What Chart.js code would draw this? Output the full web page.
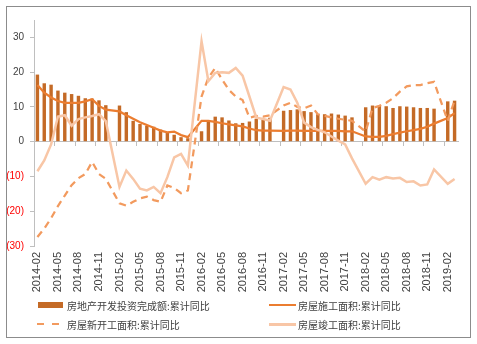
<!DOCTYPE html>
<html lang="zh-CN">
<head>
<meta charset="UTF-8">
<title>房地产开发投资与房屋面积累计同比</title>
<script src="https://cdn.jsdelivr.net/npm/chart.js"></script>
<style>
  body { margin: 0; background: #fff; }
  .frame { position: absolute; left: 6px; top: 6px; width: 463px; height: 330px; border: 1px solid #8c8c8c; }
  .frame canvas { display: block; }
  .leg { position: absolute; height: 12px; display: flex; align-items: center; white-space: nowrap;
         font: 10px "Noto Sans CJK SC", sans-serif; color: #404040; }
  .leg i { display: block; flex: none; }
</style>
</head>
<body>
<div class="frame"><canvas id="chart" width="463" height="330"></canvas></div>

<script>
// monthly categories, January has no separate release (null in every series)
const months = [
  '2014-02','2014-03','2014-04','2014-05','2014-06','2014-07','2014-08','2014-09','2014-10','2014-11','2014-12',
  '2015-01','2015-02','2015-03','2015-04','2015-05','2015-06','2015-07','2015-08','2015-09','2015-10','2015-11','2015-12',
  '2016-01','2016-02','2016-03','2016-04','2016-05','2016-06','2016-07','2016-08','2016-09','2016-10','2016-11','2016-12',
  '2017-01','2017-02','2017-03','2017-04','2017-05','2017-06','2017-07','2017-08','2017-09','2017-10','2017-11','2017-12',
  '2018-01','2018-02','2018-03','2018-04','2018-05','2018-06','2018-07','2018-08','2018-09','2018-10','2018-11','2018-12',
  '2019-01','2019-02','2019-03'
];

// 房地产开发投资完成额:累计同比 (%)
const investYoY = [
  19.3, 16.8, 16.4, 14.7, 14.1, 13.7, 13.2, 12.5, 12.4, 11.9, 10.5,
  null, 10.4, 8.5, 6.0, 5.1, 4.6, 4.3, 3.5, 2.6, 2.0, 1.3, 1.0,
  null, 3.0, 6.2, 7.2, 7.0, 6.1, 5.3, 5.4, 5.8, 6.6, 6.5, 6.9,
  null, 8.9, 9.1, 9.3, 8.8, 8.5, 7.9, 7.9, 8.1, 7.8, 7.5, 7.0,
  null, 9.9, 10.4, 10.3, 10.2, 9.7, 10.2, 10.1, 9.9, 9.7, 9.7, 9.5,
  null, 11.6, 11.8
];

// 房屋施工面积:累计同比 (%)
const underConstructionYoY = [
  16.3, 14.1, 12.7, 11.7, 11.2, 11.2, 11.2, 11.6, 12.2, 10.3, 9.2,
  null, 8.7, 7.6, 6.6, 5.6, 4.8, 4.0, 3.2, 2.7, 2.9, 1.9, 1.3,
  null, 6.0, 6.0, 5.7, 5.3, 5.0, 4.7, 4.4, 3.8, 3.3, 3.2, 3.2,
  null, 3.1, 3.2, 3.2, 3.1, 3.1, 3.1, 3.1, 3.1, 3.1, 3.0, 3.0,
  null, 1.5, 1.4, 1.4, 1.7, 2.2, 2.6, 3.0, 3.3, 3.7, 4.3, 5.2,
  null, 6.8, 8.2
];

// 房屋新开工面积:累计同比 (%)
const newStartsYoY = [
  -27.4, -25.0, -22.0, -18.5, -15.5, -12.5, -10.5, -9.3, -5.8, -9.3, -10.7,
  null, -17.7, -18.4, -17.3, -16.3, -15.8, -16.8, -17.3, -12.6, -13.3, -14.8, -14.0,
  null, 13.0, 18.4, 21.2, 17.9, 14.9, 13.0, 12.0, 6.9, 7.4, 7.2, 7.6,
  null, 10.4, 11.2, 10.0, 9.6, 10.4, 7.9, 7.4, 7.0, 6.6, 6.3, 6.0,
  null, 2.9, 9.7, 10.3, 11.2, 12.5, 14.4, 15.9, 16.3, 16.3, 16.8, 17.2,
  null, 6.0, 11.9
];

// 房屋竣工面积:累计同比 (%)
const completedYoY = [
  -8.5, -5.4, -0.8, 7.2, 7.6, 4.6, 6.5, 7.0, 7.4, 7.9, 5.9,
  null, -13.0, -8.3, -10.7, -13.5, -14.0, -13.0, -14.8, -10.2, -4.5, -3.5, -6.9,
  null, 28.9, 17.4, 19.8, 20.0, 19.8, 21.2, 19.0, 13.0, 6.9, 6.5, 6.0,
  null, 15.7, 15.0, 11.2, 5.5, 4.2, 3.4, 2.7, 1.5, 0.3, -0.8, -4.8,
  null, -12.1, -10.2, -10.9, -10.2, -10.6, -10.4, -11.6, -11.4, -12.6, -12.3, -8.0,
  null, -12.1, -10.7
];

const seriesNames = [
  '房地产开发投资完成额:累计同比',
  '房屋施工面积:累计同比',
  '房屋新开工面积:累计同比',
  '房屋竣工面积:累计同比'
];

const BAR_COLOR = '#C46A26';
const SOLID_COLOR = '#EB7D30';
const DASH_COLOR = '#F29A5E';
const PALE_COLOR = '#F8C6A6';
const AXIS_GREY = '#BFBFBF';

Chart.defaults.font.family = '"Liberation Sans", Arial, sans-serif';

new Chart(document.getElementById('chart'), {
  type: 'bar',
  data: {
    labels: months,
    datasets: [
      {
        type: 'bar', label: seriesNames[0], data: investYoY,
        backgroundColor: BAR_COLOR, categoryPercentage: 0.5, barPercentage: 1, order: 4
      },
      {
        type: 'line', label: seriesNames[1], data: underConstructionYoY,
        borderColor: SOLID_COLOR, borderWidth: 2.25, pointRadius: 0, spanGaps: true, tension: 0, order: 3
      },
      {
        type: 'line', label: seriesNames[2], data: newStartsYoY,
        borderColor: DASH_COLOR, borderWidth: 2.25, borderDash: [7, 5], pointRadius: 0, spanGaps: true, tension: 0, order: 2
      },
      {
        type: 'line', label: seriesNames[3], data: completedYoY,
        borderColor: PALE_COLOR, borderWidth: 2.5, pointRadius: 0, spanGaps: true, tension: 0, order: 1
      }
    ]
  },
  options: {
    responsive: false,
    animation: false,
    events: [],
    layout: { padding: { left: 0, right: 12, top: 13, bottom: 31 } },
    plugins: { legend: { display: false }, tooltip: { enabled: false } },
    scales: {
      // month labels along the bottom
      x: {
        type: 'category',
        offset: true,
        grid: { display: false, drawTicks: false, offset: true },
        border: { display: false },
        ticks: {
          autoSkip: false, minRotation: 90, maxRotation: 90, padding: 6,
          color: '#404040', font: { size: 11 },
          callback: (v, i) => (i % 3 === 0 ? months[i] : null)
        },
        afterFit: s => { s.height = 60; }
      },
      // zero line with quarter tick marks hanging below it
      xz: {
        type: 'category',
        labels: months,
        position: { y: 0 },
        offset: true,
        grid: {
          drawOnChartArea: false, offset: true, tickLength: 4,
          color: c => (c.index % 3 === 0 && c.index > 0 ? AXIS_GREY : 'rgba(0,0,0,0)'),
          tickColor: c => (c.index % 3 === 0 && c.index > 0 ? AXIS_GREY : 'rgba(0,0,0,0)')
        },
        border: { color: AXIS_GREY },
        ticks: { display: false, autoSkip: false }
      },
      y: {
        min: -30,
        max: 35,
        grid: { drawOnChartArea: false, tickLength: 4, color: AXIS_GREY },
        border: { color: AXIS_GREY },
        ticks: {
          stepSize: 10, includeBounds: false, padding: 6, font: { size: 10 },
          color: c => (c.tick.value < 0 ? '#FF0000' : '#404040'),
          callback: v => (v < 0 ? '(' + (-v) + ')' : String(v))
        },
        afterFit: s => { s.width = 27; }
      }
    }
  }
});

// legend laid out in two columns under the plot
const legendSpots = [
  { left: 38, top: 299, w: 25, h: 6, gap: 4, paint: BAR_COLOR },
  { left: 269, top: 299, w: 27, h: 2, gap: 2, paint: SOLID_COLOR },
  { left: 37, top: 318, w: 22, h: 2, gap: 8,
    paint: 'repeating-linear-gradient(to right,' + DASH_COLOR + ' 0 7px,transparent 7px 15px)' },
  { left: 269, top: 318, w: 27, h: 3, gap: 2, paint: PALE_COLOR }
];

legendSpots.forEach((spot, k) => {
  const item = document.createElement('div');
  item.className = 'leg';
  item.style.left = spot.left + 'px';
  item.style.top = spot.top + 'px';
  const sw = document.createElement('i');
  sw.style.width = spot.w + 'px';
  sw.style.height = spot.h + 'px';
  sw.style.marginRight = spot.gap + 'px';
  sw.style.background = spot.paint;
  const txt = document.createElement('span');
  txt.textContent = seriesNames[k];
  item.appendChild(sw);
  item.appendChild(txt);
  document.body.appendChild(item);
});
</script>
</body>
</html>
